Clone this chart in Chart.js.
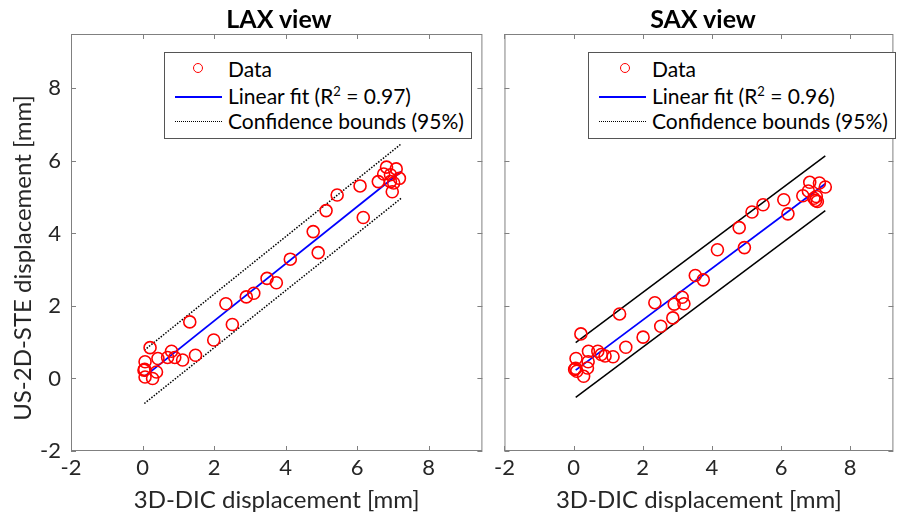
<!DOCTYPE html>
<html>
<head>
<meta charset="utf-8">
<script src="https://cdn.jsdelivr.net/npm/chart.js@4.4.0/dist/chart.umd.min.js"></script>
<style>
  body { margin: 0; background: #fff; width: 901px; height: 515px; overflow: hidden; position: relative; font-family: Lato, "Open Sans", sans-serif; }
  .box { position: absolute; top: 0; height: 515px; }
  .ttl { position: absolute; top: 3px; font-weight: bold; font-size: 25px; line-height: 30px; color: #000; text-align: center; }
  .ytl { position: absolute; left: 22px; top: 258px; width: 400px; margin-left: -200px; margin-top: -14px; text-align: center;
         font-size: 24px; line-height: 28px; color: #262626; transform: rotate(-90deg); white-space: nowrap; }
  .leg { position: absolute; top: 52px; height: 85px; border: 1px solid #555; background: #fff; font-size: 21px; color: #000; }
  .leg .row { position: absolute; left: 0; height: 26px; line-height: 26px; white-space: nowrap; }
  .leg .txt { position: absolute; left: 63px; }
  .leg sup { font-size: 13px; line-height: 0; }
  .mk { position: absolute; left: 28px; top: 7px; width: 8px; height: 8px; border: 1.6px solid #ff0000; border-radius: 50%; }
  .ln { position: absolute; left: 10px; top: 13px; width: 47px; height: 0; }
</style>
</head>
<body>
<div class="box" style="left:0;width:490px"><canvas id="lax"></canvas></div>
<div class="box" style="left:490px;width:411px"><canvas id="sax"></canvas></div>

<div class="ttl" style="left:71px;width:416px">LAX view</div>
<div class="ttl" style="left:495px;width:416px">SAX view</div>
<div class="ytl">US-2D-STE displacement [mm]</div>

<div class="leg" style="left:164px;width:306px">
  <div class="row" style="top:3px"><span class="mk"></span><span class="txt">Data</span></div>
  <div class="row" style="top:30px"><span class="ln" style="border-top:2px solid #0000ff"></span><span class="txt">Linear fit (R<sup>2</sup> = 0.97)</span></div>
  <div class="row" style="top:55px"><span class="ln" style="border-top:1.5px dotted #000"></span><span class="txt">Confidence bounds (95%)</span></div>
</div>
<div class="leg" style="left:588px;width:306px">
  <div class="row" style="top:3px"><span class="mk" style="left:31px"></span><span class="txt">Data</span></div>
  <div class="row" style="top:30px"><span class="ln" style="border-top:2px solid #0000ff"></span><span class="txt">Linear fit (R<sup>2</sup> = 0.96)</span></div>
  <div class="row" style="top:55px"><span class="ln" style="border-top:1.5px dotted #000"></span><span class="txt">Confidence bounds (95%)</span></div>
</div>

<script>
// tick labels, both panels
const xTicks = [-2, 0, 2, 4, 6, 8];
const yTicks = [-2, 0, 2, 4, 6, 8];

// LAX view measurements (3D-DIC vs US-2D-STE)
const laxX = [0.21, 0.07, 0.06, 0.07, 0.04, 0.28, 0.39, 0.43, 0.70, 0.81, 0.90, 1.12, 1.32, 1.48, 1.99, 2.33, 2.51,
  2.90, 3.11, 3.48, 3.74, 4.13, 4.77, 4.91, 5.13, 5.44, 6.08, 6.17, 6.59, 6.82, 6.74, 7.09, 7.18, 6.93, 7.02, 6.93, 6.98];
const laxY = [0.85, 0.46, 0.25, 0.04, 0.23, 0.00, 0.18, 0.55, 0.58, 0.75, 0.58, 0.51, 1.56, 0.64, 1.06, 2.06, 1.49,
  2.25, 2.35, 2.76, 2.64, 3.29, 4.05, 3.47, 4.63, 5.06, 5.31, 4.44, 5.43, 5.83, 5.64, 5.78, 5.52, 5.43, 5.39, 5.62, 5.15];
const laxFitX = [0.05, 7.23];
const laxFitY = [0.05, 5.71];
const laxUpper = [0.78, 6.47];
const laxLower = [-0.69, 4.97];

// SAX view measurements
const saxX = [0.21, 0.07, 0.06, 0.09, 0.03, 0.29, 0.40, 0.42, 0.43, 0.70, 0.80, 0.91, 1.14, 1.33, 1.51, 2.01, 2.35, 2.52,
  2.87, 2.91, 3.14, 3.19, 3.52, 3.75, 4.16, 4.79, 4.94, 5.16, 5.48, 6.08, 6.20, 6.83, 7.11, 7.28, 6.79, 6.63, 6.95, 7.02, 7.05, 7.00];
const saxY = [1.23, 0.55, 0.28, 0.20, 0.25, 0.06, 0.29, 0.46, 0.75, 0.75, 0.66, 0.62, 0.60, 1.78, 0.86, 1.14, 2.09, 1.44,
  1.67, 2.05, 2.24, 2.06, 2.84, 2.72, 3.55, 4.16, 3.61, 4.59, 4.79, 4.93, 4.54, 5.41, 5.39, 5.28, 5.17, 5.04, 4.97, 5.02, 4.88, 4.91];
const saxFitX = [0.06, 7.28];
const saxFitY = [0.23, 5.37];
const saxUpper = [0.99, 6.14];
const saxLower = [-0.52, 4.63];

const textColor = '#262626';
const axisColor = '#808080';
const font = 'Lato, "Open Sans", sans-serif';

function pts(xs, ys) {
  return xs.map((x, i) => ({ x: x, y: ys[i] }));
}

// MATLAB style box with inward tick marks
const boxTicks = {
  id: 'boxTicks',
  afterDraw(chart) {
    const ctx = chart.ctx;
    const a = chart.chartArea;
    const xs = chart.scales.x, ys = chart.scales.y;
    ctx.save();
    ctx.strokeStyle = axisColor;
    ctx.lineWidth = 1;
    ctx.strokeRect(a.left + 0.5, a.top + 0.5, a.right - a.left - 1, a.bottom - a.top - 1);
    ctx.beginPath();
    xTicks.forEach(v => {
      const p = Math.round(xs.getPixelForValue(v)) + 0.5;
      ctx.moveTo(p, a.bottom); ctx.lineTo(p, a.bottom - 5);
      ctx.moveTo(p, a.top); ctx.lineTo(p, a.top + 5);
    });
    yTicks.forEach(v => {
      const p = Math.round(ys.getPixelForValue(v)) + 0.5;
      ctx.moveTo(a.left, p); ctx.lineTo(a.left + 5, p);
      ctx.moveTo(a.right, p); ctx.lineTo(a.right - 5, p);
    });
    ctx.stroke();
    ctx.restore();
  }
};

function makeChart(id, xs, ys, fitX, fitY, upper, lower, dotted, showY, xMax, yWidth, padRight) {
  const boundDash = dotted ? [1.5, 1.5] : [];
  return new Chart(document.getElementById(id), {
    type: 'scatter',
    data: {
      datasets: [
        {
          label: 'Data',
          data: pts(xs, ys),
          pointStyle: 'circle',
          pointRadius: 6,
          pointBorderWidth: 1.6,
          pointBorderColor: '#ff0000',
          pointBackgroundColor: 'rgba(0,0,0,0)',
          order: 1
        },
        {
          label: 'Linear fit',
          type: 'line',
          data: pts(fitX, fitY),
          borderColor: '#0000ff',
          borderWidth: 1.8,
          pointRadius: 0,
          fill: false,
          order: 2
        },
        {
          label: 'Upper bound',
          type: 'line',
          data: pts(fitX, upper),
          borderColor: '#000',
          borderWidth: 1.5,
          borderDash: boundDash,
          pointRadius: 0,
          fill: false,
          order: 3
        },
        {
          label: 'Lower bound',
          type: 'line',
          data: pts(fitX, lower),
          borderColor: '#000',
          borderWidth: 1.5,
          borderDash: boundDash,
          pointRadius: 0,
          fill: false,
          order: 3
        }
      ]
    },
    options: {
      responsive: true,
      maintainAspectRatio: false,
      animation: false,
      layout: { padding: { top: 34, right: padRight, left: 0, bottom: 0 } },
      plugins: { legend: { display: false }, tooltip: { enabled: false } },
      scales: {
        x: {
          type: 'linear',
          min: -2,
          max: xMax,
          afterBuildTicks: s => { s.ticks = xTicks.map(v => ({ value: v })); },
          afterFit: s => { s.height = 64; },
          grid: { display: false, drawTicks: false },
          border: { display: false },
          ticks: { color: textColor, font: { family: font, size: 22 }, padding: 4, maxRotation: 0 },
          title: { display: true, text: '3D-DIC displacement [mm]', color: textColor, font: { family: font, size: 24 }, padding: { top: 0, bottom: 0 } }
        },
        y: {
          type: 'linear',
          min: -2,
          max: 9.5,
          afterBuildTicks: s => { s.ticks = yTicks.map(v => ({ value: v })); },
          afterFit: s => { s.width = yWidth; },
          grid: { display: false, drawTicks: false },
          border: { display: false },
          ticks: { display: showY, color: textColor, font: { family: font, size: 22 }, padding: 10 },
          title: { display: false }
        }
      }
    },
    plugins: [boxTicks]
  });
}

makeChart('lax', laxX, laxY, laxFitX, laxFitY, laxUpper, laxLower, true, true, 9.5, 71, 3);
makeChart('sax', saxX, saxY, saxFitX, saxFitY, saxUpper, saxLower, false, false, 9.25, 5, 0);
</script>
</body>
</html>
